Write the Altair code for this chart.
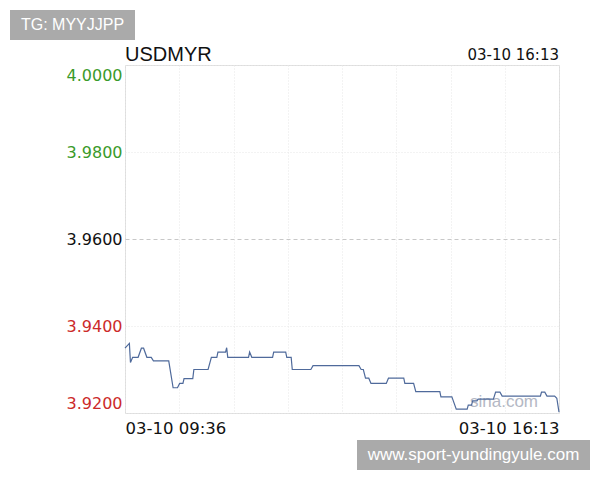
import altair as alt
import pandas as pd

# ---------------- data ----------------
symbol = "USDMYR"
stamp = "03-10 16:13"
x_tick_labels = ["03-10 09:36", "03-10 16:13"]
y_ticks = [3.92, 3.94, 3.96, 3.98, 4.00]
prev_close = 3.96
tag_text = "TG: MYYJJPP"
site_text = "www.sport-yundingyule.com"
watermark = "sina.com"

times = [
    "09:36", "09:40", "09:41", "09:43", "09:48", "09:51", "09:53", "09:56",
    "10:00", "10:02", "10:16", "10:20", "10:24", "10:26", "10:29", "10:30",
    "10:38", "10:39", "10:52", "10:55", "11:00", "11:01", "11:08", "11:09",
    "11:10", "11:29", "11:30", "11:32", "11:51", "11:52", "12:03", "12:04",
    "12:08", "12:09", "12:26", "12:28", "13:10", "13:12", "13:14", "13:16",
    "13:19", "13:21", "13:35", "13:37", "13:51", "13:52", "14:00", "14:02",
    "14:24", "14:25", "14:35", "14:39", "14:49", "14:50", "14:53", "14:54",
    "14:58", "14:59", "15:13", "15:15", "15:19", "15:21", "15:56", "15:57",
    "16:00", "16:02", "16:09", "16:11", "16:13",
]
values = [
    3.9349, 3.9360, 3.9316, 3.9328, 3.9328, 3.9349, 3.9349, 3.9328,
    3.9328, 3.9320, 3.9320, 3.9258, 3.9258, 3.9268, 3.9268, 3.9279,
    3.9279, 3.9300, 3.9300, 3.9328, 3.9328, 3.9340, 3.9340, 3.9350,
    3.9328, 3.9328, 3.9340, 3.9328, 3.9328, 3.9340, 3.9340, 3.9328,
    3.9328, 3.9300, 3.9300, 3.9309, 3.9309, 3.9300, 3.9300, 3.9280,
    3.9280, 3.9268, 3.9268, 3.9280, 3.9280, 3.9268, 3.9268, 3.9249,
    3.9249, 3.9237, 3.9237, 3.9209, 3.9209, 3.9218, 3.9218, 3.9228,
    3.9228, 3.9232, 3.9232, 3.9248, 3.9248, 3.9239, 3.9239, 3.9248,
    3.9248, 3.9239, 3.9239, 3.9234, 3.9202,
]


def to_min(t):
    h, m = t.split(":")
    return int(h) * 60 + int(m)


t0 = to_min(times[0])
span = to_min(times[-1]) - t0
df = pd.DataFrame({"time": times, "m": [to_min(t) - t0 for t in times], "price": values})
grid_x = [span * k / 8 for k in range(9)]

W, H = 434, 348
NUM_FONT = "DejaVu Sans"
TXT_FONT = "Liberation Sans"

label_expr = (
    f"datum.value == 0 ? '{x_tick_labels[0]}' : "
    f"(abs(datum.value - {span}) < 0.001 ? '{x_tick_labels[1]}' : '')"
)
pc = prev_close
y_color = alt.ExprRef(
    expr=f"datum.value > {pc} + 1e-6 ? '#3a9a2a' : (datum.value < {pc} - 1e-6 ? '#cc2a2a' : '#111111')"
)
grid_dash = alt.ExprRef(expr=f"abs(datum.value - {pc}) < 1e-6 ? [4, 3] : [1, 2]")
grid_col = alt.ExprRef(expr=f"abs(datum.value - {pc}) < 1e-6 ? '#c8c8c8' : '#e6e6e6'")

line = alt.Chart(df).mark_line(color="#4f6a9b", strokeWidth=1.2).encode(
    x=alt.X(
        "m:Q",
        scale=alt.Scale(domain=[0, span], nice=False, zero=False),
        axis=alt.Axis(
            values=grid_x, labelExpr=label_expr, title=None, ticks=False, domain=False,
            grid=True, gridColor="#e6e6e6", gridDash=[1, 2], labelFlush=True,
            labelFont=NUM_FONT, labelFontSize=16.5, labelColor="#111111",
            labelPadding=7, labelOverlap=False,
        ),
    ),
    y=alt.Y(
        "price:Q",
        scale=alt.Scale(domain=[y_ticks[0], y_ticks[-1]], nice=False, zero=False),
        axis=alt.Axis(
            values=y_ticks, format=".4f", title=None, ticks=False, domain=False,
            grid=True, gridColor=grid_col, gridDash=grid_dash, labelFlush=True,
            labelFlushOffset=-2,
            labelFont=NUM_FONT, labelFontSize=16, labelColor=y_color,
            labelPadding=3, labelOverlap=False,
        ),
    ),
)


def one(txt):
    return pd.DataFrame({"t": [txt]})


def text_layer(txt, x, y, **kw):
    return alt.Chart(one(txt)).mark_text(**kw).encode(
        x=alt.value(x), y=alt.value(y), text="t:N"
    )


def box(x1, x2, y1, y2):
    return alt.Chart(one("")).mark_rect(color="#aaaaaa").encode(
        x=alt.value(x1), x2=alt.value(x2), y=alt.value(y1), y2=alt.value(y2)
    )


wm = text_layer(watermark, 379, 342, font=TXT_FONT, fontSize=17, color="#b4b8c4",
                align="center", baseline="alphabetic")
title = text_layer(symbol, 0, -4, font=TXT_FONT, fontSize=20, color="#111111",
                   align="left", baseline="alphabetic")
stamp_t = text_layer(stamp, W, -5, font=NUM_FONT, fontSize=15, color="#111111",
                     align="right", baseline="alphabetic")
tag_box = box(-115, 10, -55, -25)
tag_t = text_layer(tag_text, -52.5, -40, font=TXT_FONT, fontSize=16, color="#ffffff",
                   align="center", baseline="middle")
site_box = box(232, 465, 375, 405)
site_t = text_layer(site_text, 348.5, 390, font=TXT_FONT, fontSize=17, color="#ffffff",
                    align="center", baseline="middle")

chart = (
    alt.layer(wm, line, title, stamp_t, tag_box, tag_t, site_box, site_t)
    .properties(
        width=W, height=H,
        autosize=alt.AutoSizeParams(type="none"),
        padding={"left": 117, "top": 57, "right": 33, "bottom": 57},
        background="#ffffff",
    )
    .configure_view(stroke="#dddddd", strokeWidth=1)
)

chart.save("out.html", embed_options={"renderer": "svg", "actions": False})
